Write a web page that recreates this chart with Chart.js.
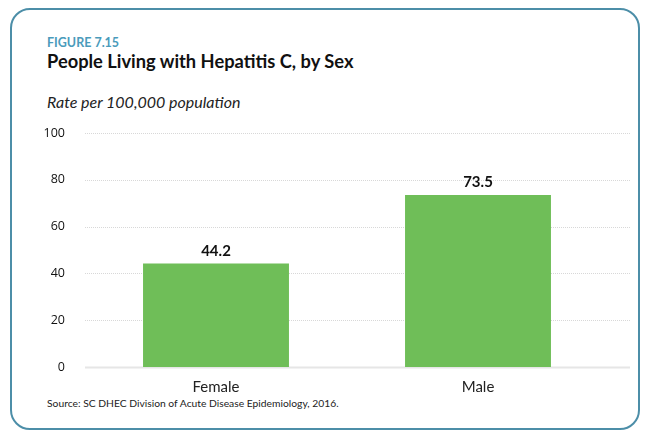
<!DOCTYPE html>
<html>
<head>
<meta charset="utf-8">
<script src="https://cdn.jsdelivr.net/npm/chart.js@4"></script>
<style>
  html, body { margin: 0; padding: 0; background: #fff; }
  body { width: 649px; height: 436px; position: relative; overflow: hidden; font-family: Lato, "Open Sans", sans-serif; }
  .frame { position: absolute; left: 10px; top: 8px; width: 626px; height: 418px; border: 2px solid #4c8ea8; border-radius: 20px; }
  .fig { position: absolute; left: 47px; top: 35px; font-size: 12.5px; font-weight: 700; color: #4a9bbb; }
  .title { position: absolute; left: 47px; top: 50px; font-size: 18.3px; font-weight: 700; color: #111; }
  .sub { position: absolute; left: 47px; top: 92px; font-size: 16px; font-style: italic; color: #222; }
  .src { position: absolute; left: 47px; top: 397px; font-size: 10.3px; color: #222; }
  canvas { position: absolute; left: 0; top: 0; }
</style>
</head>
<body>
<div class="frame"></div>
<div class="fig">FIGURE 7.15</div>
<div class="title">People Living with Hepatitis C, by Sex</div>
<div class="sub">Rate per 100,000 population</div>
<div class="src">Source: SC DHEC Division of Acute Disease Epidemiology, 2016.</div>
<canvas id="chart" width="649" height="436"></canvas>
<script>
const categories = ['Female', 'Male'];
const rates = [44.2, 73.5];
const yTicks = [0, 20, 40, 60, 80, 100];

// grid lines run a bit past the last bar, like the original
const gridPlugin = {
    id: 'wideGrid',
    beforeDatasetsDraw(chart) {
        const ctx = chart.ctx;
        const y = chart.scales.y;
        const left = chart.chartArea.left;
        const right = chart.chartArea.right + 21;
        ctx.save();
        yTicks.forEach(v => {
            const py = Math.round(y.getPixelForValue(v)) + 0.5;
            ctx.beginPath();
            if (v === 0) {
                ctx.strokeStyle = '#e6e6e6';
                ctx.lineWidth = 2;
                ctx.setLineDash([]);
            } else {
                ctx.strokeStyle = '#d8d8d8';
                ctx.lineWidth = 1;
                ctx.setLineDash([1, 1]);
            }
            ctx.moveTo(left, py);
            ctx.lineTo(right, py);
            ctx.stroke();
        });
        ctx.restore();
    }
};

const labelPlugin = {
    id: 'barValues',
    afterDatasetsDraw(chart) {
        const ctx = chart.ctx;
        const meta = chart.getDatasetMeta(0);
        ctx.save();
        ctx.font = 'bold 15px Lato, sans-serif';
        ctx.fillStyle = '#111';
        ctx.textAlign = 'center';
        ctx.textBaseline = 'bottom';
        meta.data.forEach((bar, i) => {
            ctx.fillText(rates[i].toFixed(1), bar.x, bar.y - 5);
        });
        ctx.restore();
    }
};

new Chart(document.getElementById('chart').getContext('2d'), {
    type: 'bar',
    data: {
        labels: categories,
        datasets: [{
            data: rates,
            backgroundColor: '#6fbe58',
            categoryPercentage: 1,
            barPercentage: 0.557
        }]
    },
    options: {
        responsive: false,
        animation: false,
        layout: { padding: { left: 40, right: 40, top: 133, bottom: 39 } },
        plugins: { legend: { display: false }, tooltip: { enabled: false } },
        scales: {
            x: {
                grid: { display: false },
                border: { display: false },
                ticks: { color: '#222', font: { family: 'Lato', size: 15 }, padding: 3 },
                afterFit(s) { s.height = 30; }
            },
            y: {
                min: 0, max: 100,
                afterBuildTicks(s) { s.ticks = yTicks.map(v => ({ value: v })); },
                grid: { display: false },
                border: { display: false },
                ticks: { color: '#111', font: { family: 'Open Sans', size: 12.5 }, padding: 12 },
                afterFit(s) { s.width = 45; }
            }
        }
    },
    plugins: [gridPlugin, labelPlugin]
});
</script>
</body>
</html>
